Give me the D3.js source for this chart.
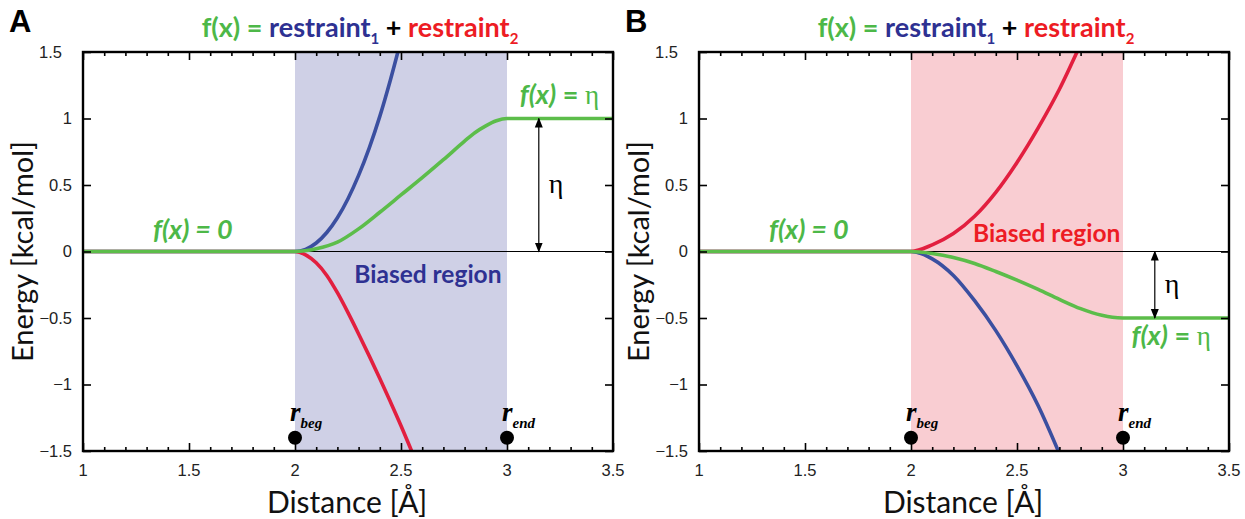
<!DOCTYPE html>
<html><head><meta charset="utf-8">
<script src="https://cdn.jsdelivr.net/npm/d3@7"></script>
<style>
body{margin:0;background:#fff;}
svg{display:block;}
</style></head>
<body>
<script>
// ---------- data ----------
const xDomain = [1, 3.5];
const yDomain = [-1.5, 1.5];
const xTicksMajor = [1, 1.5, 2, 2.5, 3, 3.5];
const xTickLabels = ["1", "1.5", "2", "2.5", "3", "3.5"];
const yTicksMajor = [-1.5, -1, -0.5, 0, 0.5, 1, 1.5];
const yTickLabels = ["\u22121.5", "\u22121", "\u22120.5", "0", "0.5", "1", "1.5"];
const biasedRegion = [2, 3];
const markerX = [2, 3];
const markerY = -1.4;

// Panel A
const aRestraint1X = [1, 2, 2.05, 2.1, 2.15, 2.2, 2.25, 2.3, 2.35, 2.4, 2.45, 2.5];
const aRestraint1Y = [0, 0, 0.016, 0.064, 0.143, 0.254, 0.397, 0.572, 0.778, 1.016, 1.29, 1.59];
const aRestraint2X = [1, 2, 2.05, 2.1, 2.15, 2.2, 2.25, 2.3, 2.35, 2.4, 2.45, 2.5, 2.55, 2.6];
const aRestraint2Y = [0, 0, -0.025, -0.085, -0.18, -0.31, -0.46, -0.62, -0.785, -0.955, -1.13, -1.31, -1.5, -1.69];
const aSumX = [1, 2, 2.1, 2.2, 2.3, 2.4, 2.5, 2.6, 2.7, 2.8, 2.85, 2.9, 2.95, 3, 3.5];
const aSumY = [0, 0, 0.02, 0.07, 0.17, 0.295, 0.425, 0.555, 0.69, 0.83, 0.895, 0.945, 0.983, 1, 1];
const aEta = 1;

// Panel B
const bRestraint1X = [1, 2, 2.1, 2.2, 2.3, 2.4, 2.5, 2.6, 2.7];
const bRestraint1Y = [0, 0, -0.055, -0.18, -0.37, -0.595, -0.86, -1.16, -1.52];
const bRestraint2X = [1, 2, 2.1, 2.2, 2.3, 2.4, 2.5, 2.6, 2.7, 2.8];
const bRestraint2Y = [0, 0, 0.05, 0.135, 0.265, 0.445, 0.67, 0.93, 1.22, 1.56];
const bSumX = [1, 2, 2.1, 2.2, 2.3, 2.4, 2.5, 2.6, 2.7, 2.8, 2.9, 2.95, 3, 3.5];
const bSumY = [0, 0, -0.015, -0.045, -0.09, -0.15, -0.215, -0.285, -0.36, -0.43, -0.48, -0.495, -0.5, -0.5];
const bEta = -0.5;

// ---------- drawing ----------
const W = 1245, H = 519;
const svg = d3.select("body").append("svg").attr("width", W).attr("height", H);

const C = {
  blue: "#3b4fa0", red: "#e21f3f", green: "#5cbd4a",
  tBlue: "#2e3192", tRed: "#ed1c24", tGreen: "#4db848",
  shadeA: "#cfd0e6", shadeB: "#f9cdd2"
};
const sansT = "Lato, 'Open Sans', sans-serif";
const tickFont = "'Liberation Sans', Arial, sans-serif";
const serif = "'Liberation Serif', 'DejaVu Serif', serif";

const defs = svg.append("defs");
defs.append("marker").attr("id", "arr").attr("viewBox", "0 0 10 10")
  .attr("refX", 9).attr("refY", 5).attr("markerWidth", 10).attr("markerHeight", 10)
  .attr("markerUnits", "userSpaceOnUse").attr("orient", "auto-start-reverse")
  .append("path").attr("d", "M0,1 L10,5 L0,9 Z").attr("fill", "#000");

function panel(cfg) {
  const left = cfg.left, right = cfg.left + 530, top = 52, bottom = 451;
  const x = d3.scaleLinear().domain(xDomain).range([left, right]);
  const y = d3.scaleLinear().domain(yDomain).range([bottom, top]);
  const g = svg.append("g");
  const clipId = "clip" + cfg.id;
  defs.append("clipPath").attr("id", clipId).append("rect")
    .attr("x", left).attr("y", top).attr("width", right - left).attr("height", bottom - top);

  // shaded region
  g.append("rect").attr("x", x(biasedRegion[0])).attr("y", top)
    .attr("width", x(biasedRegion[1]) - x(biasedRegion[0])).attr("height", bottom - top)
    .attr("fill", cfg.shade);

  // zero line
  g.append("line").attr("x1", left).attr("x2", right).attr("y1", y(0)).attr("y2", y(0))
    .attr("stroke", "#000").attr("stroke-width", 1.2);

  const line = d3.line().x(d => x(d[0])).y(d => y(d[1])).curve(d3.curveMonotoneX);
  const cg = g.append("g").attr("clip-path", `url(#${clipId})`);
  cfg.series.forEach(s => {
    cg.append("path").datum(d3.zip(s.x, s.y)).attr("d", line)
      .attr("fill", "none").attr("stroke", s.color).attr("stroke-width", 3.6)
      .attr("stroke-linejoin", "round").attr("stroke-linecap", "round");
  });

  // axes (ticks inward)
  const minor = d3.range(11, 35).map(v => v / 10).filter(v => Math.abs(v * 2 - Math.round(v * 2)) > 1e-6);
  const axB = d3.axisBottom(x).tickValues(xTicksMajor).tickSize(-8).tickFormat("");
  const axT = d3.axisTop(x).tickValues(xTicksMajor).tickSize(-8).tickFormat("");
  const axBm = d3.axisBottom(x).tickValues(minor).tickSize(-4).tickFormat("");
  const axTm = d3.axisTop(x).tickValues(minor).tickSize(-4).tickFormat("");
  const axL = d3.axisLeft(y).tickValues(yTicksMajor).tickSize(-8).tickFormat("");
  const axR = d3.axisRight(y).tickValues(yTicksMajor).tickSize(-8).tickFormat("");
  [[axB, `translate(0,${bottom})`], [axBm, `translate(0,${bottom})`],
   [axT, `translate(0,${top})`], [axTm, `translate(0,${top})`],
   [axL, `translate(${left},0)`], [axR, `translate(${right},0)`]].forEach(([a, t]) => {
    const ag = g.append("g").attr("transform", t).call(a);
    ag.select(".domain").remove();
    ag.selectAll("line").attr("stroke", "#000").attr("stroke-width", 1.6);
  });
  g.append("rect").attr("x", left).attr("y", top).attr("width", right - left).attr("height", bottom - top)
    .attr("fill", "none").attr("stroke", "#000").attr("stroke-width", 2.4);

  // tick labels
  g.selectAll(".xl").data(xTicksMajor).join("text")
    .attr("x", d => x(d)).attr("y", bottom + 25).attr("text-anchor", "middle")
    .attr("font-family", tickFont).attr("font-size", 16.5).attr("fill", "#222")
    .text((d, i) => xTickLabels[i]);
  g.selectAll(".yl").data(yTicksMajor).join("text")
    .attr("x", d => d === 1.5 ? left - 21 : left - 11).attr("y", d => y(d) + 5.5).attr("text-anchor", "end")
    .attr("font-family", tickFont).attr("font-size", 16.5).attr("fill", "#222")
    .text((d, i) => yTickLabels[i]);

  // axis titles
  g.append("text").attr("x", (left + right) / 2 - 1).attr("y", 513).attr("text-anchor", "middle")
    .attr("font-family", sansT).attr("font-size", 30).attr("fill", "#111").text("Distance [Å]");
  g.append("text").attr("transform", `translate(${left - 50},${(top + bottom) / 2}) rotate(-90)`)
    .attr("text-anchor", "middle").attr("font-family", sansT).attr("font-size", 29).attr("fill", "#111")
    .text("Energy [kcal/mol]");

  // panel letter
  g.append("text").attr("x", cfg.left - 74).attr("y", 32).attr("font-family", tickFont)
    .attr("font-weight", "bold").attr("font-size", 31).attr("fill", "#000").text(cfg.id);

  // title
  const t = g.append("text").attr("x", (left + right) / 2 + 12).attr("y", 37).attr("text-anchor", "middle")
    .attr("font-family", sansT).attr("font-weight", "bold").attr("font-size", 27);
  t.append("tspan").attr("fill", C.tGreen).text("f(x) = ");
  t.append("tspan").attr("fill", C.tBlue).text("restraint");
  t.append("tspan").attr("fill", C.tBlue).attr("font-size", 15).attr("dy", 7).text("1");
  t.append("tspan").attr("fill", "#000").attr("dy", -7).text(" + ");
  t.append("tspan").attr("fill", C.tRed).text("restraint");
  t.append("tspan").attr("fill", C.tRed).attr("font-size", 15).attr("dy", 7).text("2");

  // markers r_beg / r_end
  const subs = ["beg", "end"];
  markerX.forEach((mx, i) => {
    g.append("circle").attr("cx", x(mx)).attr("cy", y(markerY)).attr("r", 7).attr("fill", "#000");
    const tt = g.append("text").attr("x", x(mx) - 5).attr("y", y(markerY) - 17)
      .attr("font-family", serif).attr("font-style", "italic").attr("font-weight", "bold")
      .attr("font-size", 27).attr("fill", "#000");
    tt.append("tspan").text("r");
    tt.append("tspan").attr("font-size", 15).attr("dy", 7).text(subs[i]);
  });

  // f(x) = 0 label
  g.append("text").attr("x", x(1.33)).attr("y", y(0) - 13)
    .attr("font-family", sansT).attr("font-style", "italic").attr("font-weight", "bold")
    .attr("font-size", 27).attr("fill", C.tGreen).text("f(x) = 0");

  // eta arrow
  g.append("line").attr("x1", x(cfg.arrowX)).attr("x2", x(cfg.arrowX))
    .attr("y1", y(0)).attr("y2", y(cfg.eta)).attr("stroke", "#000").attr("stroke-width", 1.2)
    .attr("marker-start", "url(#arr)").attr("marker-end", "url(#arr)");
  g.append("text").attr("x", x(cfg.arrowX) + 10).attr("y", (y(0) + y(cfg.eta)) / 2 + 8)
    .attr("font-family", serif).attr("font-size", 28).attr("fill", "#000").text("η");

  // f(x) = eta label
  const fe = g.append("text").attr("x", x(cfg.etaLabel[0])).attr("y", y(cfg.etaLabel[1]))
    .attr("font-family", sansT).attr("font-weight", "bold").attr("font-size", 27).attr("fill", C.tGreen);
  fe.append("tspan").attr("font-style", "italic").text("f(x)");
  fe.append("tspan").text(" = ");
  fe.append("tspan").attr("font-family", serif).attr("font-weight", "normal").text("η");

  // Biased region label
  g.append("text").attr("x", x(cfg.biasLabel[0])).attr("y", y(cfg.biasLabel[1])).attr("text-anchor", "middle")
    .attr("font-family", sansT).attr("font-weight", "bold").attr("font-size", 24.5)
    .attr("fill", cfg.biasColor).text("Biased region");
}

panel({
  id: "A", left: 83, shade: C.shadeA, eta: aEta, arrowX: 3.15,
  etaLabel: [3.06, 1.11], biasLabel: [2.627, -0.235], biasColor: C.tBlue,
  series: [
    { x: aRestraint2X, y: aRestraint2Y, color: C.red },
    { x: aRestraint1X, y: aRestraint1Y, color: C.blue },
    { x: aSumX, y: aSumY, color: C.green }
  ]
});
panel({
  id: "B", left: 699, shade: C.shadeB, eta: bEta, arrowX: 3.15,
  etaLabel: [3.04, -0.7], biasLabel: [2.64, 0.075], biasColor: C.tRed,
  series: [
    { x: bRestraint1X, y: bRestraint1Y, color: C.blue },
    { x: bRestraint2X, y: bRestraint2Y, color: C.red },
    { x: bSumX, y: bSumY, color: C.green }
  ]
});
</script>
</body></html>
